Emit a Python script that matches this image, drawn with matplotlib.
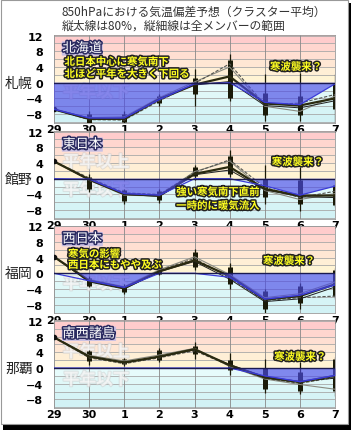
import matplotlib
matplotlib.use('Agg')
import matplotlib.pyplot as plt
import matplotlib.patheffects as pe
from matplotlib.patches import Rectangle
import numpy as np

plt.rcParams['font.family'] = ['Noto Sans CJK JP', 'DejaVu Sans']

days = ['29', '30', '1', '2', '3', '4', '5', '6', '7']
cities = ['札幌', '館野', '福岡', '那覇']
regions = ['北海道', '東日本', '西日本', '南西諸島']
yticks = [12, 8, 4, 0, -4, -8]

# 青塗りの境界線（クラスター平均）
edge = [
    [-6.8, -9.0, -9.0, -4.3, -0.3, 0.4, -5.0, -5.6, -0.3],
    [4.4, -0.1, -3.8, -4.2, 0.5, 2.5, -1.8, -4.2, -1.9],
    [4.2, -1.9, -3.6, 0.3, 3.2, -1.0, -6.6, -5.6, -3.0],
    [7.8, 2.9, 1.4, 2.9, 4.6, 0.5, -2.0, -3.5, -1.9],
]
# 太い黒線
mean = [
    [-6.8, -9.2, -9.2, -4.2, -0.5, 1.6, -5.3, -5.8, -4.0],
    [4.4, -0.2, -3.9, -4.3, 1.2, 3.0, -2.6, -4.3, -4.3],
    [4.2, -1.9, -3.7, 0.5, 3.3, -0.7, -6.7, -5.8, -2.8],
    [7.8, 2.9, 1.4, 2.9, 4.8, 0.7, -2.4, -3.6, -2.0],
]
# 細線（各クラスター）
mem_dash = [
    [-6.8, -9.4, -9.5, -4.6, -0.2, 4.8, -5.6, -5.2, -3.0],
    [4.4, 0.2, -3.6, -4.0, 1.6, 4.8, -2.2, -4.8, -3.2],
    [4.2, -2.0, -3.9, 0.7, 3.8, -1.2, -6.9, -6.2, -5.8],
    [7.8, 2.6, 1.1, 2.6, 4.4, 0.6, -2.6, -3.9, -2.4],
]
mem_gray = [
    [-6.8, -8.9, -8.7, -3.8, 0.2, 4.0, -6.0, -7.3, -3.4],
    [4.4, -0.4, -4.2, -4.4, 1.8, 4.5, -3.0, -5.3, -3.8],
    [4.2, -1.6, -3.4, 0.9, 4.2, -0.3, -6.2, -5.2, -2.2],
    [7.8, 3.2, 1.8, 3.3, 5.0, 0.4, -2.8, -4.2, -5.4],
]
mem_black = [
    [-6.8, -9.3, -9.0, -4.0, -0.6, 0.3, -5.8, -6.4, -4.6],
    [4.4, -0.3, -4.0, -4.5, 1.0, 2.2, -2.8, -4.6, -4.8],
    [4.2, -2.2, -4.0, 0.4, 3.0, -1.5, -7.2, -6.5, -3.5],
    [7.8, 3.0, 1.3, 2.8, 4.6, 0.9, -2.2, -3.4, -2.6],
]
# 縦太線(80%) と 縦細線(全メンバー)  30日〜7日
thick_hi = [
    [-7.9, -8.0, -3.4, 1.3, 5.9, -2.5, -3.4, -0.3],
    [0.4, -3.0, -3.1, 3.0, 5.9, 0.0, -0.4, -1.7],
    [-1.3, -3.2, 1.2, 5.5, 1.6, -4.5, -3.2, 0.8],
    [4.3, 2.3, 4.6, 5.5, 2.0, 0.0, -1.0, 2.4],
]
thick_lo = [
    [-10.2, -9.9, -5.1, -3.0, -3.8, -8.1, -8.1, -6.8],
    [-2.5, -5.7, -5.3, 0.8, 1.3, -4.7, -6.4, -6.8],
    [-3.2, -4.7, -0.1, 1.6, -2.8, -9.2, -7.5, -5.8],
    [1.7, 0.9, 2.0, 3.5, -0.6, -5.4, -5.8, -5.8],
]
thin_hi = [
    [-7.2, -7.2, -2.8, 3.4, 7.4, 2.1, 2.5, 2.3],
    [1.3, -2.5, -2.5, 3.4, 7.2, 3.6, 3.0, -1.3],
    [-0.7, -2.8, 1.6, 6.1, 2.7, -4.1, -2.4, 1.4],
    [4.6, 2.6, 5.0, 6.5, 3.7, 2.4, 1.6, 2.9],
]
thin_lo = [
    [-10.6, -10.2, -5.9, -5.9, -4.7, -9.7, -9.7, -10.0],
    [-3.4, -6.4, -6.2, -0.4, 0.4, -6.4, -8.1, -7.2],
    [-3.6, -5.2, -0.4, 0.8, -4.1, -11.0, -9.2, -6.6],
    [0.7, 0.5, 1.6, 2.4, -1.9, -6.3, -6.7, -7.0],
]

# 注記 (panel, x, y, text)
notes = [
    (0, 0.3, 5.3, '北日本中心に寒気南下'),
    (0, 0.3, 2.2, '北ほど平年を大きく下回る'),
    (0, 6.15, 4.0, '寒波襲来？'),
    (1, 6.2, 4.2, '寒波襲来？'),
    (1, 3.48, -3.4, '強い寒気南下直前'),
    (1, 3.48, -6.9, '一時的に暖気流入'),
    (2, 0.4, 4.9, '寒気の影響'),
    (2, 0.4, 2.1, '西日本にもやや及ぶ'),
    (2, 5.95, 3.1, '寒波襲来？'),
    (3, 6.27, 2.8, '寒波襲来？'),
]
above_y = [None, 4.2, None, 4.1]
below_y = [-2.4, -2.9, -2.7, -3.0]

W, H = 354, 431
fig = plt.figure(figsize=(W / 100, H / 100), dpi=100)
fig.patch.set_facecolor('white')

# 枠と影
fig.add_artist(Rectangle((3 / W, 0), 348 / W, 427 / H, transform=fig.transFigure,
                         facecolor='black', edgecolor='none', zorder=-2))
fig.add_artist(Rectangle((0.5 / W, 6 / H), 347 / W, 424.5 / H, transform=fig.transFigure,
                         facecolor='white', edgecolor='#999999', lw=0.8, zorder=-1))

fig.text(62 / W, 1 - 12 / H, '850hPaにおける気温偏差予想（クラスター平均）',
         fontsize=8.5, color='#333333', va='center')
fig.text(62 / W, 1 - 26 / H, '縦太線は80%，縦細線は全メンバーの範囲',
         fontsize=8.5, color='#333333', va='center')

zero_px = [83.7, 179.7, 274.3, 369.0]
ppu = 3.93
ytop, ybot = 12.1, -10.2
pos_cols = ['#ffcccc', '#ffd6cf', '#ffdfd2', '#ffe7d4', '#ffefd6', '#fff4d4']
neg_cols = ['#e6fbfb', '#e0f8f8', '#dbf6f7', '#d6f4f6', '#d2f2f5', '#cff0f4']

x = np.arange(len(days))
outline = [pe.withStroke(linewidth=2.2, foreground='#222222')]

for i in range(4):
    top_px = zero_px[i] - ytop * ppu
    bot_px = zero_px[i] - ybot * ppu
    ax = fig.add_axes([54 / W, 1 - bot_px / H, 281 / W, (bot_px - top_px) / H])
    ax.set_xlim(0, 8)
    ax.set_ylim(ybot, ytop)

    # 背景の帯
    tops = [ytop, 10, 8, 6, 4, 2]
    for k, c in enumerate(pos_cols):
        lo = tops[k + 1] if k + 1 < len(tops) else 0
        ax.axhspan(lo, tops[k], color=c, zorder=0, lw=0)
    bnds = [0, -2, -4, -6, -8, -10, ybot]
    for k, c in enumerate(neg_cols):
        ax.axhspan(bnds[k + 1], bnds[k], color=c, zorder=0, lw=0)
    for yy in range(-10, 13, 2):
        if yy != 0:
            ax.axhline(yy, color='#a8a8a8', lw=0.6, zorder=1)
    for xx in x:
        ax.axvline(xx, color='#888888', lw=0.6, zorder=1)
    ax.axhline(0, color='#1a1a50', lw=1.0, zorder=6)

    # 平年以上/以下
    wm = dict(fontsize=12, fontweight='bold', color='white', alpha=0.55, zorder=2,
              va='center', path_effects=[pe.withStroke(linewidth=1.5, foreground='#d0d0d0')])
    if above_y[i] is not None:
        ax.text(0.25, above_y[i], '平年以上', **wm)
    ax.text(0.25, below_y[i], '平年以下', **wm)

    # 縦線
    xb = x[1:]
    ax.vlines(xb, thin_lo[i], thin_hi[i], color='#1a1a08', lw=0.9, zorder=3)
    ax.vlines(xb, thick_lo[i], thick_hi[i], color='#1a1a08', lw=3.6, zorder=3)

    # 細線
    ax.plot(x, mem_gray[i], color='#8a8a80', lw=0.8, zorder=3)
    ax.plot(x, mem_dash[i], color='#555550', lw=0.8, ls=(0, (3, 1.5)), zorder=3)
    ax.plot(x, mem_black[i], color='#202020', lw=0.7, zorder=3)
    ax.plot(x, mean[i], color='#2a2a10', lw=1.6, zorder=4)
    ax.plot(x[:1], mean[i][:1], 'o', color='#111111', ms=3, zorder=5)

    # 青塗り
    e = np.array(edge[i])
    ax.fill_between(x, 0, e, where=e < 0, interpolate=True, color='#4a4ae6',
                    alpha=0.65, lw=0, zorder=5)
    ax.plot(x, np.minimum(e, 0), color='#3a3ad8', lw=0.9, zorder=5)

    ax.set_yticks(yticks)
    ax.set_yticklabels([str(t).replace('-', '−') for t in yticks],
                       fontsize=8, fontweight='bold', family='DejaVu Sans')
    ax.set_xticks(x)
    ax.set_xticklabels(days, fontsize=8, fontweight='bold', family='DejaVu Sans')
    ax.tick_params(length=0, pad=1)
    ax.tick_params(axis='y', pad=8)
    for s in ax.spines.values():
        s.set_color('#999999')
        s.set_linewidth(0.6)

    fig.text(5 / W, 1 - zero_px[i] / H, cities[i], fontsize=10, va='center', color='#222222')

    ax.text(0.24, 8.7, regions[i], fontsize=9.5, color='white', va='center', zorder=8,
            path_effects=[pe.withStroke(linewidth=2.2, foreground='#2a2a60')],
            bbox=dict(boxstyle='round,pad=0.05', facecolor='#c4bde6', edgecolor='none', alpha=0.9))

for p, nx, ny, t in notes:
    ax = fig.axes[p]
    ax.text(nx, ny, t, fontsize=7.5, fontweight='bold', color='#ffff20', va='center',
            zorder=9, path_effects=outline)

fig.savefig('out.png', dpi=100)
